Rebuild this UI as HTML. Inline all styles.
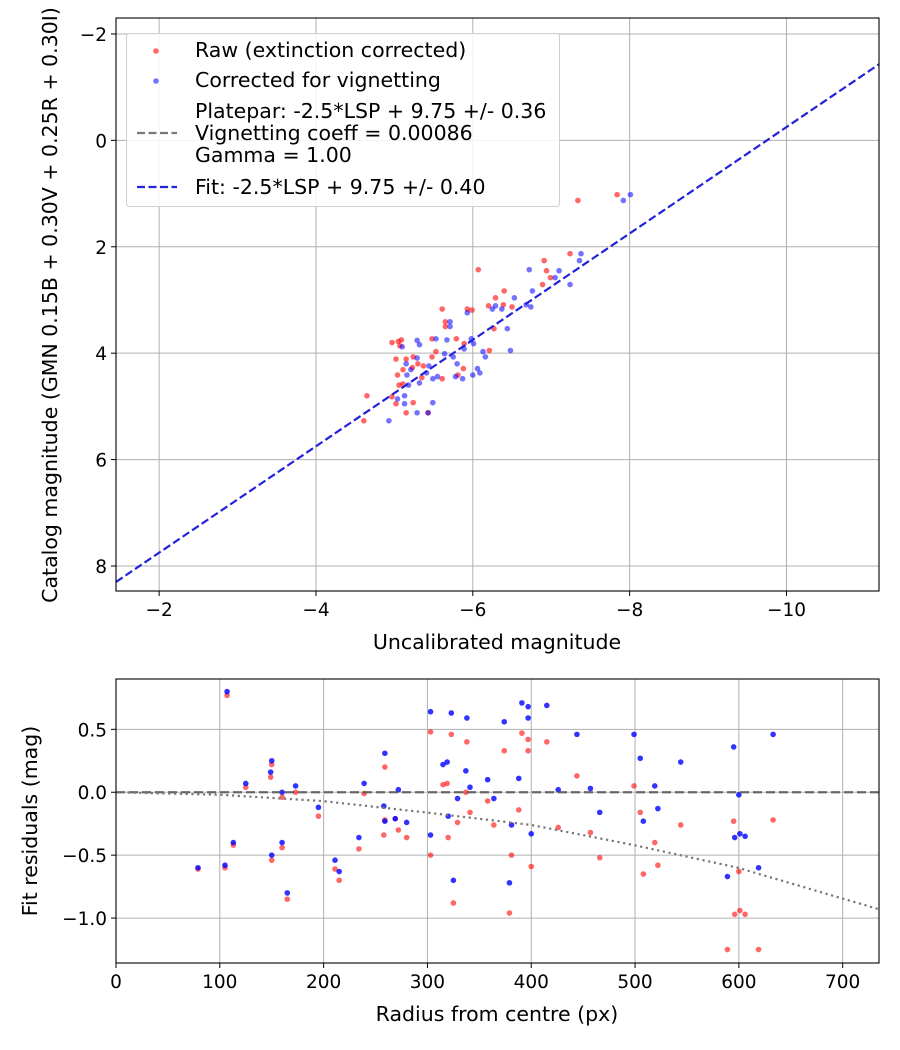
<!DOCTYPE html>
<html><head><meta charset="utf-8">
<style>
html,body{margin:0;padding:0;background:#fff;}
svg{display:block;font-family:"DejaVu Sans","Liberation Sans",sans-serif;}
</style></head>
<body>
<svg id="chart" width="900" height="1050" viewBox="0 0 900 1050" xmlns="http://www.w3.org/2000/svg"></svg>
<script>
// ---- Top chart data ----
const rawX = [-6.07,-6.29,-6.40,-6.20,-6.39,-6.50,-5.61,-5.93,-5.99,-5.65,-5.65,-6.27,-4.97,-5.05,-5.09,-5.07,-5.48,-5.79,-5.89,-5.53,-6.21,-5.02,-5.15,-5.24,-5.48,-5.30,-5.37,-5.11,-5.23,-5.88,-5.04,-5.35,-5.61,-5.81,-5.06,-5.11,-4.65,-4.97,-5.02,-5.24,-5.15,-5.43,-4.61,-7.84,-7.34,-7.24,-6.91,-6.94,-6.99,-6.89];
const rawY = [2.43,2.96,2.83,3.11,3.09,3.13,3.17,3.17,3.19,3.41,3.50,3.54,3.80,3.78,3.75,3.86,3.73,3.73,3.82,3.97,3.95,4.11,4.11,4.07,4.07,4.20,4.24,4.31,4.27,4.29,4.41,4.46,4.48,4.41,4.60,4.58,4.80,4.82,4.95,4.93,5.12,5.12,5.27,1.02,1.13,2.13,2.26,2.45,2.58,2.71];
const corX = [-6.72,-6.76,-6.53,-6.68,-6.74,-6.29,-6.25,-6.37,-5.93,-5.71,-5.71,-6.44,-5.98,-6.01,-5.67,-5.53,-5.29,-5.32,-5.10,-5.89,-6.13,-6.16,-6.48,-5.64,-5.75,-5.29,-5.15,-5.44,-5.80,-5.21,-6.06,-6.09,-5.16,-5.41,-6.00,-5.78,-5.87,-5.49,-5.55,-5.18,-5.32,-5.04,-5.13,-5.13,-5.49,-5.29,-5.43,-4.93,-8.01,-7.92,-7.38,-7.36,-7.24,-7.10,-7.05];
const corY = [2.43,2.83,2.96,3.09,3.13,3.11,3.17,3.17,3.24,3.41,3.50,3.54,3.73,3.82,3.75,3.73,3.76,3.84,3.88,3.92,3.97,4.07,3.95,4.01,4.07,4.09,4.20,4.24,4.20,4.31,4.29,4.37,4.41,4.37,4.41,4.44,4.48,4.48,4.44,4.60,4.56,4.86,4.80,4.95,4.93,5.12,5.12,5.27,1.02,1.13,2.13,2.26,2.71,2.45,2.58];
const fitOffset = [9.75];
const topXTicks = [-2,-4,-6,-8,-10];
const topYTicks = [-2,0,2,4,6,8];

// ---- Bottom chart data ----
const radius = [79,105,107,113,125,150,149,150,160,160,165,173,195,211,215,234,239,259,258,259,269,272,280,303,303,315,319,320,323,325,329,337,338,341,358,364,391,397,415,374,397,444,499,505,544,595,633,388,426,457,519,522,466,508,600,601,596,606,589,619,381,400,379];
const resCorr = [-0.60,-0.58,0.80,-0.40,0.07,0.25,0.16,-0.50,0.00,-0.40,-0.80,0.05,-0.12,-0.54,-0.63,-0.36,0.07,0.31,-0.11,-0.23,-0.21,0.02,-0.24,0.64,-0.34,0.22,0.24,-0.19,0.63,-0.70,-0.05,0.17,0.59,0.04,0.10,-0.05,0.71,0.68,0.69,0.56,0.59,0.46,0.46,0.27,0.24,0.36,0.46,0.11,0.02,0.03,0.05,-0.13,-0.16,-0.23,-0.02,-0.33,-0.36,-0.35,-0.67,-0.60,-0.26,-0.33,-0.72];
const resRaw = [-0.61,-0.60,0.77,-0.42,0.04,0.22,0.12,-0.54,-0.04,-0.44,-0.85,0.00,-0.19,-0.61,-0.70,-0.45,-0.01,0.20,-0.34,-0.22,-0.21,-0.30,-0.36,0.48,-0.50,0.06,0.07,-0.36,0.46,-0.88,-0.24,0.00,0.40,-0.16,-0.07,-0.26,0.47,0.42,0.40,0.33,0.33,0.13,0.05,-0.16,-0.26,-0.23,-0.22,-0.14,-0.28,-0.32,-0.40,-0.58,-0.52,-0.65,-0.63,-0.94,-0.97,-0.97,-1.25,-1.25,-0.50,-0.59,-0.96];
const modelR = [0,100,199,298,400,499,599,735];
const modelRes = [0,-0.02,-0.07,-0.16,-0.26,-0.42,-0.60,-0.93];
const botXTicks = [0,100,200,300,400,500,600,700];
const botYTicks = [0.5,0.0,-0.5,-1.0];

const NS = "http://www.w3.org/2000/svg";
const svg = document.getElementById('chart');
function mk(tag, attrs, parent){
  const e = document.createElementNS(NS, tag);
  for (const k in attrs) e.setAttribute(k, attrs[k]);
  (parent||svg).appendChild(e);
  return e;
}
function fmt(v, d){ const s = v.toFixed(d); return s.replace('-', '\u2212'); }

const TICKFS = 18.5, LABFS = 20.5, LEGFS = 20.5;
// top axes
const T = {l:116, r:879, t:18, b:591, x0:-1.45, x1:-11.18, y0:-2.30, y1:8.47};
const tx = v => T.l + (v - T.x0) / (T.x1 - T.x0) * (T.r - T.l);
const ty = v => T.t + (v - T.y0) / (T.y1 - T.y0) * (T.b - T.t);
// bottom axes
const B = {l:116, r:879, t:679, b:963, x0:0, x1:735, y0:0.9, y1:-1.357};
const bx = v => B.l + (v - B.x0) / (B.x1 - B.x0) * (B.r - B.l);
const by = v => B.t + (v - B.y0) / (B.y1 - B.y0) * (B.b - B.t);

function clip(id, A){
  const d = mk('defs', {});
  const c = mk('clipPath', {id:id}, d);
  mk('rect', {x:A.l, y:A.t, width:A.r-A.l, height:A.b-A.t}, c);
}
clip('ctop', T); clip('cbot', B);

// ===== TOP =====
const gTop = mk('g', {});


topXTicks.forEach(v => {
  const x = tx(v);
  const gl = mk('line', {x1:x, x2:x, y1:T.t, y2:T.b, stroke:'#b0b0b0', 'stroke-width':1}, gTop);
  
  
  mk('line', {x1:x, x2:x, y1:T.b, y2:T.b+5, stroke:'#000', 'stroke-width':1}, gTop);
  const t = mk('text', {x:x, y:T.b+25, 'text-anchor':'middle', 'font-size':TICKFS}, gTop);
  t.textContent = fmt(v, 0);
  
  
});
topYTicks.forEach(v => {
  const y = ty(v);
  const gl = mk('line', {x1:T.l, x2:T.r, y1:y, y2:y, stroke:'#b0b0b0', 'stroke-width':1}, gTop);
  
  
  mk('line', {x1:T.l-5, x2:T.l, y1:y, y2:y, stroke:'#000', 'stroke-width':1}, gTop);
  const t = mk('text', {x:T.l-9, y:y+7, 'text-anchor':'end', 'font-size':TICKFS}, gTop);
  t.textContent = fmt(v, 0);
  
  
});
const pts = mk('g', {'clip-path':'url(#ctop)'}, gTop);
rawX.forEach((v,i) => {
  const c = mk('circle', {cx:tx(v), cy:ty(rawY[i]), r:2.8, fill:'#ff0000', 'fill-opacity':0.6}, pts);
  
  
});
corX.forEach((v,i) => {
  const c = mk('circle', {cx:tx(v), cy:ty(corY[i]), r:2.8, fill:'#0000ff', 'fill-opacity':0.55}, pts);
  
  
});
const fl = mk('line', {x1:tx(T.x0), y1:ty(T.x0+fitOffset[0]), x2:tx(T.x1), y2:ty(T.x1+fitOffset[0]), stroke:'#2222dd', 'stroke-width':2.2, 'stroke-dasharray':'8,3.5'}, pts);


mk('rect', {x:T.l, y:T.t, width:T.r-T.l, height:T.b-T.t, fill:'none', stroke:'#000', 'stroke-width':1.1}, gTop);
let t = mk('text', {x:497, y:649, 'text-anchor':'middle', 'font-size':LABFS}, gTop);
t.textContent = 'Uncalibrated magnitude';


t = mk('text', {x:0, y:0, 'text-anchor':'middle', 'font-size':LABFS, transform:'translate(57,305) rotate(-90)'}, gTop);
t.textContent = 'Catalog magnitude (GMN 0.15B + 0.30V + 0.25R + 0.30I)';



// legend
const lg = mk('g', {}, gTop);


mk('rect', {x:126.5, y:33.5, width:433, height:173, rx:3, fill:'#fff', 'fill-opacity':0.85, stroke:'#d0d0d0', 'stroke-width':1}, lg);
function legText(y, s, name){
  const e = mk('text', {x:195, y:y, 'font-size':LEGFS}, lg);
  e.textContent = s;
  
  
}
mk('circle', {cx:156, cy:51, r:2.8, fill:'#ff0000', 'fill-opacity':0.6}, lg);
legText(57, 'Raw (extinction corrected)', 'legend-raw');
mk('circle', {cx:156, cy:81, r:2.8, fill:'#0000ff', 'fill-opacity':0.55}, lg);
legText(87, 'Corrected for vignetting', 'legend-corrected');
mk('line', {x1:137, x2:177, y1:133, y2:133, stroke:'#777', 'stroke-width':2.2, 'stroke-dasharray':'8,3.5'}, lg);
legText(118, 'Platepar: -2.5*LSP + 9.75 +/- 0.36', 'legend-platepar');
legText(140, 'Vignetting coeff = 0.00086', 'legend-vignetting');
legText(162, 'Gamma = 1.00', 'legend-gamma');
mk('line', {x1:137, x2:177, y1:187, y2:187, stroke:'#2222dd', 'stroke-width':2.2, 'stroke-dasharray':'8,3.5'}, lg);
legText(194, 'Fit: -2.5*LSP + 9.75 +/- 0.40', 'legend-fit');

// ===== BOTTOM =====
const gBot = mk('g', {});


botXTicks.forEach(v => {
  const x = bx(v);
  const gl = mk('line', {x1:x, x2:x, y1:B.t, y2:B.b, stroke:'#b0b0b0', 'stroke-width':1}, gBot);
  
  
  mk('line', {x1:x, x2:x, y1:B.b, y2:B.b+5, stroke:'#000', 'stroke-width':1}, gBot);
  const e = mk('text', {x:x, y:B.b+25, 'text-anchor':'middle', 'font-size':TICKFS}, gBot);
  e.textContent = String(v);
  
  
});
botYTicks.forEach(v => {
  const y = by(v);
  const gl = mk('line', {x1:B.l, x2:B.r, y1:y, y2:y, stroke:'#b0b0b0', 'stroke-width':1}, gBot);
  
  
  mk('line', {x1:B.l-5, x2:B.l, y1:y, y2:y, stroke:'#000', 'stroke-width':1}, gBot);
  const e = mk('text', {x:B.l-9, y:y+7, 'text-anchor':'end', 'font-size':TICKFS}, gBot);
  e.textContent = fmt(v, 1);
  
  
});
const bp = mk('g', {'clip-path':'url(#cbot)'}, gBot);
radius.forEach((v,i) => {
  const c = mk('circle', {cx:bx(v), cy:by(resRaw[i]), r:2.8, fill:'#ff0000', 'fill-opacity':0.6}, bp);
  
  
});
radius.forEach((v,i) => {
  const c = mk('circle', {cx:bx(v), cy:by(resCorr[i]), r:2.8, fill:'#0000ff', 'fill-opacity':0.8}, bp);
  
  
});
const zl = mk('line', {x1:B.l, x2:B.r, y1:by(0), y2:by(0), stroke:'#555', 'stroke-opacity':0.85, 'stroke-width':2.2, 'stroke-dasharray':'9,4'}, bp);


const mp = mk('polyline', {points:modelR.map((r,i)=>bx(r)+','+by(modelRes[i])).join(' '), fill:'none', stroke:'#777', 'stroke-width':2.2, 'stroke-dasharray':'2.2,3.6'}, bp);


mk('rect', {x:B.l, y:B.t, width:B.r-B.l, height:B.b-B.t, fill:'none', stroke:'#000', 'stroke-width':1.1}, gBot);
t = mk('text', {x:497, y:1021, 'text-anchor':'middle', 'font-size':LABFS}, gBot);
t.textContent = 'Radius from centre (px)';


t = mk('text', {x:0, y:0, 'text-anchor':'middle', 'font-size':LABFS, transform:'translate(37,821) rotate(-90)'}, gBot);
t.textContent = 'Fit residuals (mag)';


</script>
</body></html>
